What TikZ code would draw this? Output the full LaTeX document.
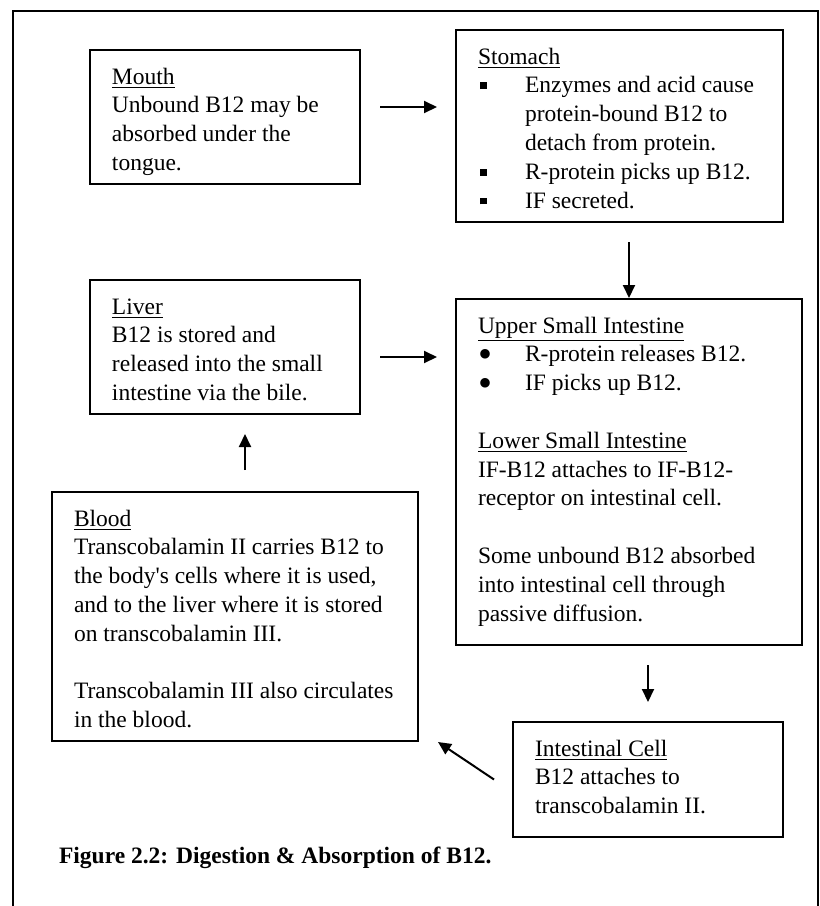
\documentclass[tikz,border=0pt]{standalone}
\usepackage{fontspec}
\setmainfont{Liberation Serif}
\usepackage{tikz}
\usetikzlibrary{arrows.meta,calc}

% text block of a box: width, height, contents (first baseline 17pt down)
\newcommand{\organtext}[3]{\parbox[c][#2][t]{#1}{\raggedright\leftskip=11pt\relax\rule{0pt}{17pt}#3}}
\newcommand{\sqitem}{\par\hangindent=23.5pt\hangafter=1\makebox[23.5pt][l]{\hspace{1pt}\rule[1.8pt]{3.4pt}{3.4pt}}}
\newcommand{\dotitem}{\par\hangindent=23.5pt\hangafter=1\makebox[23.5pt][l]{\smash{\raisebox{-2.8pt}{\scalebox{1.7}{\textbullet}}}}}
\newcommand{\gapline}{\par\vspace{\baselineskip}}

\begin{document}
\begin{tikzpicture}[x=1pt, y=-1pt,
  font=\fontsize{11.75}{14.4}\selectfont,
  organ/.style={draw, line width=1pt, anchor=north west, inner sep=0pt},
  flow/.style={-{Triangle[length=6.5pt,width=6pt]}, line width=1pt}]
  \useasboundingbox (0,0) rectangle (410,453);

  % ── Page frame (open at the bottom) ──
  \draw[line width=1pt] (6.5,453) -- (6.5,5.5) -- (409,5.5) -- (409,453);

  % ── Top row ──
  \node[organ] (mouth) at (44.5,24.5)
    {\organtext{135pt}{67pt}{\underline{Mouth}\newline
      Unbound B12 may be\newline absorbed under the\newline tongue.}};
  \node[organ] (stomach) at (227.5,14.5)
    {\organtext{163.5pt}{96pt}{\underline{Stomach}
      \sqitem Enzymes and acid cause\newline protein-bound B12 to\newline detach from protein.
      \sqitem R-protein picks up B12.
      \sqitem IF secreted.}};

  % ── Middle row ──
  \node[organ] (liver) at (44.5,139.5)
    {\organtext{135pt}{67pt}{\underline{Liver}\newline
      B12 is stored and\newline released into the small\newline intestine via the bile.}};
  \node[organ] (upper) at (227.5,149)
    {\organtext{173pt}{173pt}{\underline{Upper Small Intestine}
      \dotitem R-protein releases B12.
      \dotitem IF picks up B12.
      \gapline
      \underline{Lower Small Intestine}\newline
      IF-B12 attaches to IF-B12-\newline receptor on intestinal cell.
      \gapline
      Some unbound B12 absorbed\newline into intestinal cell through\newline passive diffusion.}};

  % ── Bottom row ──
  \node[organ] (blood) at (25.5,245.5)
    {\organtext{183pt}{124.5pt}{\underline{Blood}\newline
      Transcobalamin II carries B12 to\newline the body\textquotesingle s cells where it is used,\newline
      and to the liver where it is stored\newline on transcobalamin III.
      \gapline
      Transcobalamin III also circulates\newline in the blood.}};
  \node[organ] (cell) at (256,360.5)
    {\organtext{135pt}{57.5pt}{\underline{Intestinal Cell}\newline
      B12 attaches to\newline transcobalamin II.}};

  % ── Flow of B12 ──
  \draw[flow] ([xshift=9.5pt,yshift=5pt]mouth.east) -- ++(28.5,0);
  \draw[flow] ([yshift=-9.5pt]stomach.south -| upper.north) -- (upper.north);
  \draw[flow] ([xshift=9.5pt,yshift=-5pt]liver.east) -- ++(28.5,0);
  \draw[flow] ([xshift=9.5pt,yshift=-9.5pt]upper.south) -- ++(0,18.5);
  \draw[flow] ([xshift=-9pt]cell.west) -- ([xshift=9.5pt]blood.south east);
  \draw[flow] ([xshift=5pt,yshift=10.5pt]blood.north) -- ++(0,-18);

  % ── Caption ──
  \node[anchor=base west, font=\fontsize{11.75}{14.4}\selectfont\bfseries] (caption)
    at (26,431.5) {Figure 2.2: Digestion \& Absorption of B12.};
\end{tikzpicture}
\end{document}
